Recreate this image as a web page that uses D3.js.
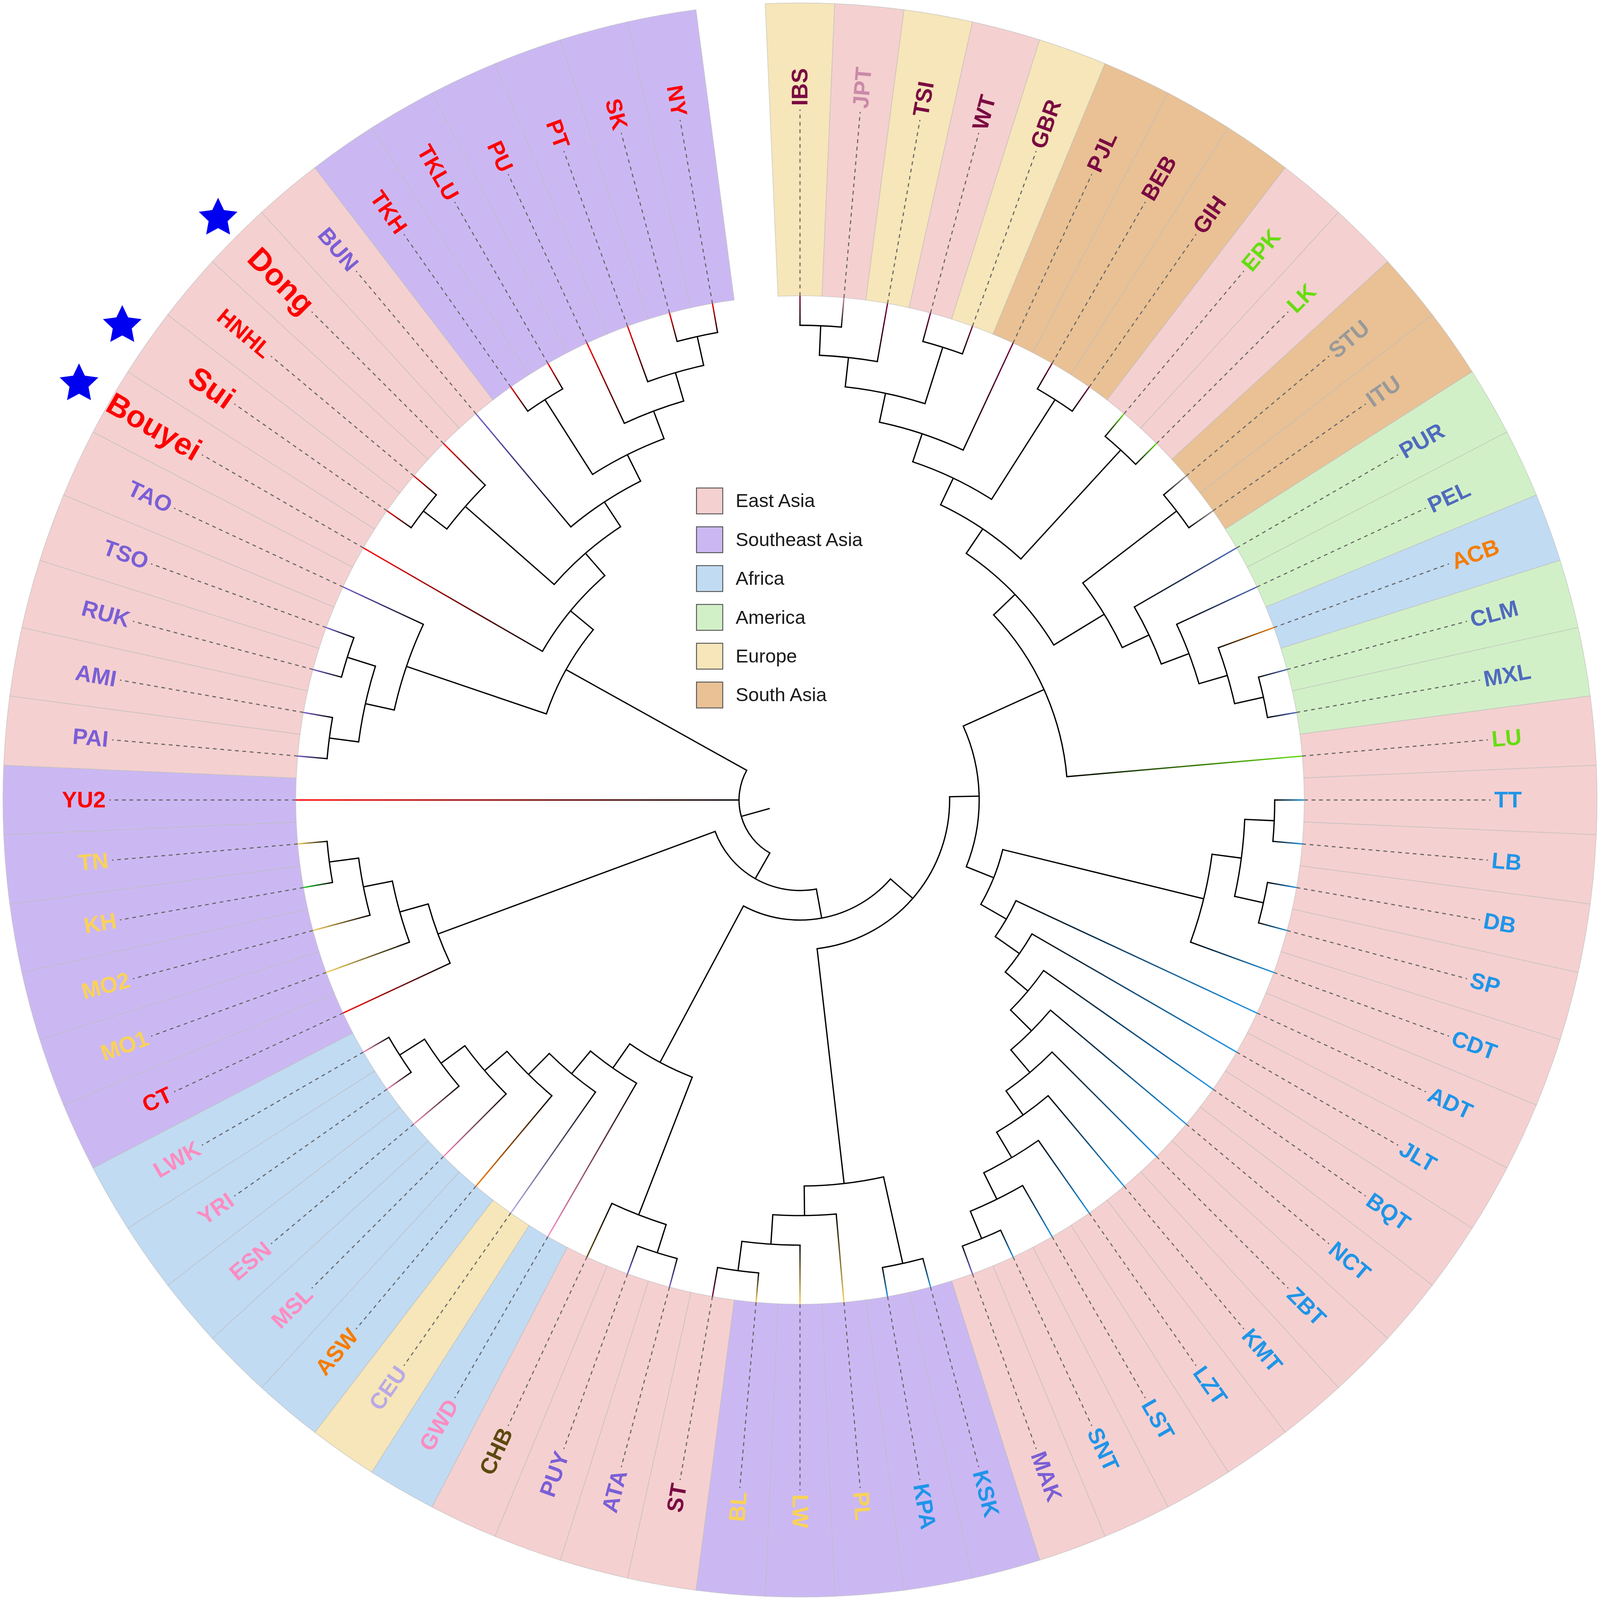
<!DOCTYPE html>
<html>
<head>
<meta charset="utf-8">
<script src="https://cdn.jsdelivr.net/npm/d3@7"></script>
<style>
  html, body { margin: 0; padding: 0; background: #fff; overflow: hidden; }
  text { font-family: "Liberation Sans", Arial, sans-serif; }
</style>
</head>
<body>
<div id="chart"></div>
<script>
const SIZE = 4328
const CX = 2164, CY = 2164

// leaves clockwise from 12 o'clock, one 5 degree slot each
const leaves = ['IBS','JPT','TSI','WT','GBR','PJL','BEB','GIH','EPK','LK','STU','ITU','PUR','PEL','ACB','CLM','MXL','LU',
  'TT','LB','DB','SP','CDT','ADT','JLT','BQT','NCT','ZBT','KMT','LZT','LST','SNT','MAK','KSK','KPA','PL','LW','BL',
  'ST','ATA','PUY','CHB','GWD','CEU','ASW','MSL','ESN','YRI','LWK','CT','MO1','MO2','KH','TN','YU2','PAI','AMI','RUK',
  'TSO','TAO','Bouyei','Sui','HNHL','Dong','BUN','TKH','TKLU','PU','PT','SK','NY']

const leafRegions = ['EU','EA','EU','EA','EU','SA','SA','SA','EA','EA','SA','SA','AM','AM','AF','AM','AM','EA',
  'EA','EA','EA','EA','EA','EA','EA','EA','EA','EA','EA','EA','EA','EA','EA','SE','SE','SE','SE','SE',
  'EA','EA','EA','EA','AF','EU','AF','AF','AF','AF','AF','SE','SE','SE','SE','SE','SE','EA','EA','EA',
  'EA','EA','EA','EA','EA','EA','EA','SE','SE','SE','SE','SE','SE']

const leafGroups = ['maroon','rose','maroon','maroon','maroon','maroon','maroon','maroon','green','green','grey','grey','steel','steel','orange','steel','steel','green',
  'blue','blue','blue','blue','blue','blue','blue','blue','blue','blue','blue','blue','blue','blue','purple','blue','blue','gold','gold','gold',
  'maroon','purple','purple','brown','pink','lilac','orange','pink','pink','pink','pink','red','gold','gold','gold','gold','red','purple','purple','purple',
  'purple','purple','red','red','red','red','purple','red','red','red','red','red','red']

const groupColors = { maroon: '#7a0a42', rose: '#c98aa8', green: '#66dd11', grey: '#999999', steel: '#4f6bbd', orange: '#f57c00',
  blue: '#1f95e8', purple: '#7a5fd6', gold: '#f9d25a', brown: '#5c4a10', pink: '#fb8cc0', lilac: '#b8a9e6', red: '#ff0000' }

// tip colour that differs from the label colour
const tipOverrides = { KH: '#22cc22' }

const regionNames = ['East Asia', 'Southeast Asia', 'Africa', 'America', 'Europe', 'South Asia']
const regionKeys = ['EA', 'SE', 'AF', 'AM', 'EU', 'SA']
const regionColors = ['#f5d0d0', '#cbb8f3', '#c1dbf3', '#d2f0c7', '#f6e6b9', '#e9c195']

const bigLabels = ['Bouyei', 'Sui', 'Dong']
const starred = ['Bouyei', 'Sui', 'Dong']
const starRadii = [2252, 2238, 2226]

// tree topology, nested pairs
const cladeEurasia = [[[[[[[['IBS','JPT'],'TSI'],['WT','GBR']],'PJL'],['BEB','GIH']],['EPK','LK']],
  [['STU','ITU'],['PUR',['PEL',['ACB',['CLM','MXL']]]]]],'LU']
const cladeTai = [[[['TT','LB'],['DB','SP']],'CDT'],
  ['ADT',['JLT',['BQT',['NCT',['ZBT',['KMT',['LZT',['LST',['SNT','MAK']]]]]]]]]]
const cladeMiddle = [['KSK','KPA'],['PL',['LW',['BL','ST']]]]
const cladeAfrica = [[['ATA','PUY'],'CHB'],['GWD',['CEU',['ASW',['MSL',['ESN',['YRI','LWK']]]]]]]
const cladeMon = ['CT',['MO1',['MO2',['KH','TN']]]]
const cladeKadai = [['TAO',[['RUK','TSO'],['PAI','AMI']]],['Bouyei',[[['Sui','HNHL'],'Dong'],['BUN',[['TKH','TKLU'],['PU',['PT',['SK','NY']]]]]]]]

const treeData = [[[[cladeEurasia, cladeTai], cladeMiddle], cladeAfrica], cladeMon]
const rootData = [treeData, 'YU2', cladeKadai]

const R_TIP = 1364, R_OUT = 2156, R_LABEL = 1878

const svg = d3.select('#chart').append('svg')
  .attr('viewBox', `0 0 ${SIZE} ${SIZE}`)
  .style('width', '100vw').style('height', '100vh')
  .style('display', 'block')
const g = svg.append('g').attr('transform', `translate(${CX},${CY})`)
const defs = svg.append('defs')

const rad = deg => deg * Math.PI / 180
const angle = d3.scalePoint().domain(leaves).range([0, rad(350)])
const half = rad(2.5)

const regionFill = d3.scaleOrdinal().domain(regionKeys).range(regionColors)

const root = d3.hierarchy(rootData, d => Array.isArray(d) ? d : null)
const radius = d3.scaleLinear().domain([0, root.height + 1]).range([R_TIP, 85])

root.eachAfter(n => {
  if (n.children) {
    const a = n.children.map(c => c.a)
    n.a0 = d3.min(a)
    n.a1 = d3.max(a)
    n.a = (n.a0 + n.a1) / 2
  } else {
    n.a = angle(n.data)
  }
  n.r = radius(n.height)
})

// ── sectors ─────────────────────────────────────────────────────
const sectorArc = d3.arc().innerRadius(R_TIP).outerRadius(R_OUT)
g.append('g').selectAll('path').data(leaves).join('path')
  .attr('d', d => sectorArc({ startAngle: angle(d) - half, endAngle: angle(d) + half }))
  .attr('fill', (d, i) => regionFill(leafRegions[i]))
  .attr('stroke', '#bcbcbc').attr('stroke-width', 2).attr('stroke-opacity', 0.6)

// ── labels and guide lines ──────────────────────────────────────
const gGuide = g.append('g')
const gLabel = g.append('g')

gGuide.selectAll('line').data(leaves).join('line')
  .attr('x1', d => d3.pointRadial(angle(d), R_TIP)[0])
  .attr('y1', d => d3.pointRadial(angle(d), R_TIP)[1])
  .attr('x2', d => d3.pointRadial(angle(d), R_LABEL - 10)[0])
  .attr('y2', d => d3.pointRadial(angle(d), R_LABEL - 10)[1])
  .attr('stroke', '#666').attr('stroke-width', 3).attr('stroke-dasharray', '10 10')

gLabel.selectAll('text').data(leaves).join('text')
  .attr('transform', d => {
    const deg = angle(d) * 180 / Math.PI
    const [x, y] = d3.pointRadial(angle(d), R_LABEL)
    return `translate(${x},${y}) rotate(${deg <= 180 ? deg - 90 : deg + 90})`
  })
  .attr('text-anchor', d => angle(d) <= Math.PI + 1e-6 ? 'start' : 'end')
  .attr('dy', '0.33em')
  .attr('font-weight', 'bold')
  .attr('font-size', d => bigLabels.includes(d) ? 84 : 61)
  .attr('fill', (d, i) => groupColors[leafGroups[i]])
  .text(d => d)

// ── tree ────────────────────────────────────────────────────────
const gTree = g.append('g').attr('fill', 'none').attr('stroke', '#000').attr('stroke-width', 3.5)
const internal = root.descendants().filter(n => n.children)

gTree.selectAll('path.arc').data(internal).join('path')
  .attr('class', 'arc')
  .attr('stroke-linecap', 'square')
  .attr('d', n => {
    const p = d3.path()
    const [x, y] = d3.pointRadial(n.a0, n.r)
    p.moveTo(x, y)
    p.arc(0, 0, n.r, n.a0 - Math.PI / 2, n.a1 - Math.PI / 2)
    return p.toString()
  })

const links = root.links()
links.filter(l => l.target.children).forEach(l => {
  const [x1, y1] = d3.pointRadial(l.target.a, l.source.r)
  const [x2, y2] = d3.pointRadial(l.target.a, l.target.r)
  gTree.append('line').attr('x1', x1).attr('y1', y1).attr('x2', x2).attr('y2', y2)
})

// tip branches fade from black into the leaf colour
links.filter(l => !l.target.children).forEach(l => {
  const name = l.target.data
  const [x1, y1] = d3.pointRadial(l.target.a, l.source.r)
  const [x2, y2] = d3.pointRadial(l.target.a, l.target.r)
  const colour = tipOverrides[name] || groupColors[leafGroups[leaves.indexOf(name)]]
  const grad = defs.append('linearGradient')
    .attr('id', `tip-${name}`).attr('gradientUnits', 'userSpaceOnUse')
    .attr('x1', x1).attr('y1', y1).attr('x2', x2).attr('y2', y2)
  grad.append('stop').attr('offset', 0).attr('stop-color', '#000')
  grad.append('stop').attr('offset', 1).attr('stop-color', colour)
  gTree.append('line').attr('x1', x1).attr('y1', y1).attr('x2', x2).attr('y2', y2)
    .attr('stroke', `url(#tip-${name})`)
})

// root stub
const [sx1, sy1] = d3.pointRadial(root.a, root.r)
const [sx2, sy2] = d3.pointRadial(root.a, radius(root.height + 1))
gTree.append('line').attr('x1', sx1).attr('y1', sy1).attr('x2', sx2).attr('y2', sy2)

// ── stars ───────────────────────────────────────────────────────
const star = d3.lineRadial()
  .angle((d, i) => i * Math.PI / 5)
  .radius(d => d)
  .curve(d3.curveLinearClosed)
g.append('g').selectAll('path').data(starred).join('path')
  .attr('transform', (d, i) => {
    const [x, y] = d3.pointRadial(angle(d), starRadii[i])
    return `translate(${x},${y})`
  })
  .attr('d', star([55, 27, 55, 27, 55, 27, 55, 27, 55, 27]))
  .attr('fill', '#0000f0')

// ── legend ──────────────────────────────────────────────────────
const legendY = d3.scalePoint().domain(regionNames).range([1355, 1880])
const legend = svg.append('g').selectAll('g').data(regionNames).join('g')
  .attr('transform', d => `translate(1884,${legendY(d)})`)
legend.append('rect')
  .attr('x', 0).attr('y', -35).attr('width', 71).attr('height', 70)
  .attr('fill', (d, i) => regionColors[i])
  .attr('stroke', '#555').attr('stroke-width', 2.5)
legend.append('text')
  .attr('x', 106).attr('dy', '0.33em')
  .attr('font-size', 51.5).attr('fill', '#1a1a1a')
  .text(d => d)
</script>
</body>
</html>
